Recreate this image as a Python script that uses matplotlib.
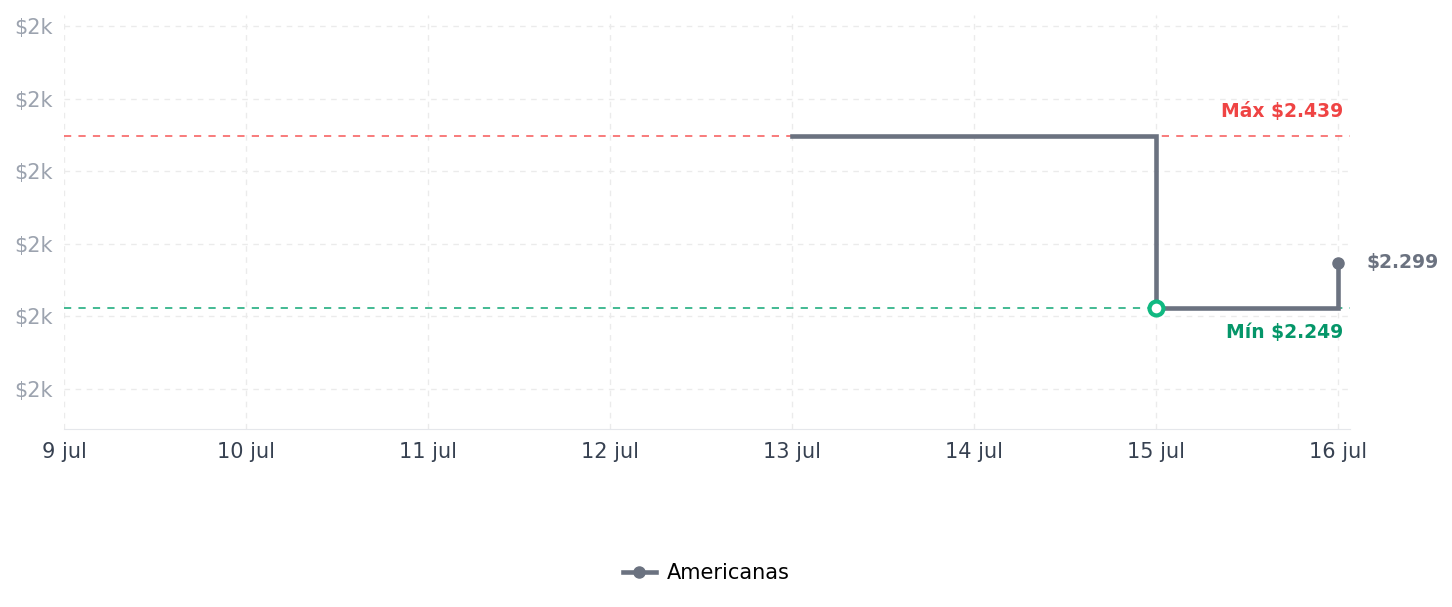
import matplotlib
matplotlib.use("Agg")
import matplotlib.pyplot as plt

# price history (day of July, price in R$)
days = [13, 14, 15, 16]
prices = [2439, 2439, 2249, 2299]
store = "Americanas"

tick_days = [9, 10, 11, 12, 13, 14, 15, 16]
tick_labels = ["{} jul".format(d) for d in tick_days]
y_ticks = [2160, 2240, 2320, 2400, 2480, 2560]

max_price = max(prices)
min_price = min(prices)
min_day = days[prices.index(min_price)]
last_day, last_price = days[-1], prices[-1]

def fmt(v):
    return "${:,}".format(v).replace(",", ".")

fig = plt.figure(figsize=(14.52, 6.07), dpi=100)
ax = fig.add_axes([64 / 1452, 1 - 429 / 607, (1350 - 64) / 1452, (429 - 15) / 607])

ax.plot(days, prices, drawstyle="steps-post", color="#6b7280", lw=3.3,
        solid_joinstyle="miter", zorder=3)
ax.axhline(max_price, color="#f87171", lw=1.3, ls=(0, (4, 4)), zorder=2)
ax.axhline(min_price, color="#34b48a", lw=1.3, ls=(0, (4, 4)), zorder=2)

ax.plot([min_day], [min_price], "o", ms=10, mfc="white", mec="#10b981", mew=3, zorder=4)
ax.plot([last_day], [last_price], "o", ms=8, color="#6b7280", zorder=4)

ax.text(16.03, max_price + 27, "Máx " + fmt(max_price), color="#ef4444",
        fontsize=13.5, fontweight="bold", ha="right", va="center")
ax.text(16.03, min_price - 27, "Mín " + fmt(min_price), color="#059669",
        fontsize=13.5, fontweight="bold", ha="right", va="center")
ax.text(16.155, last_price, fmt(last_price), color="#6b7280",
        fontsize=13.5, fontweight="bold", ha="left", va="center", clip_on=False)

ax.set_xlim(9, 16.066)
ax.set_ylim(2115.3, 2572.7)
ax.set_xticks(tick_days)
ax.set_xticklabels(tick_labels, color="#374151", fontsize=15)
ax.set_yticks(y_ticks)
ax.set_yticklabels(["$2k"] * len(y_ticks), color="#9ca3af", fontsize=15)
ax.tick_params(axis="y", length=0, pad=8)
ax.tick_params(axis="x", length=0, pad=9)
ax.grid(True, color="#ebebeb", ls=(0, (4, 4)), lw=1)
ax.set_axisbelow(True)
for s in ["top", "right", "left"]:
    ax.spines[s].set_visible(False)
ax.spines["bottom"].set_color("#e5e7eb")

handle, = ax.plot([], [], color="#6b7280", lw=3.3, marker="o", ms=8)
fig.legend([handle], [store], loc="center", bbox_to_anchor=(706 / 1452, 1 - 573 / 607),
           frameon=False, fontsize=15, handlelength=1.6, handletextpad=0.5)

fig.savefig("out.png", dpi=100)
